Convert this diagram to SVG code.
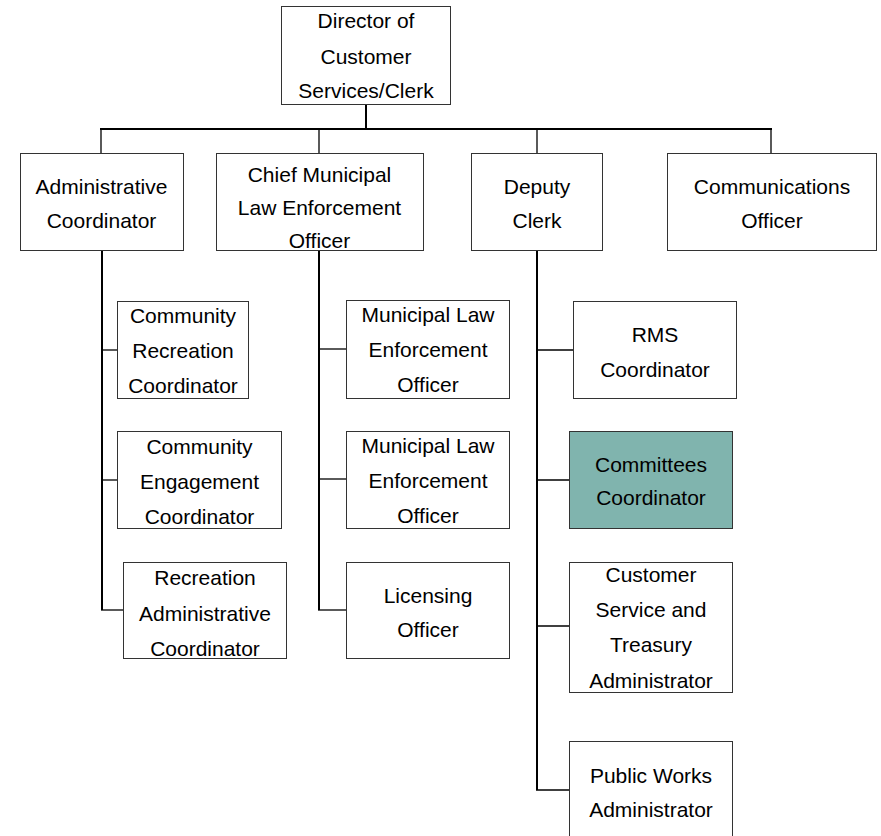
<svg xmlns="http://www.w3.org/2000/svg" width="881" height="836" viewBox="0 0 881 836">
  <style>
    .box { fill: #ffffff; stroke: #333333; stroke-width: 1; }
    .hl { fill: #80b4ae; }
    .trunk { stroke: #000000; stroke-width: 2; fill: none; }
    .branch { stroke: #000000; stroke-width: 1.3; fill: none; }
    text { font-family: "Liberation Sans", Arial, sans-serif; font-size: 21px; fill: #000000; text-anchor: middle; }
  </style>
  <rect width="881" height="836" fill="#ffffff"/>

  <!-- connectors -->
  <g id="connectors">
    <line class="trunk" x1="366" y1="104" x2="366" y2="129"/>
    <line class="trunk" x1="100" y1="129" x2="772" y2="129"/>
    <line class="branch" x1="101" y1="129" x2="101" y2="153"/>
    <line class="branch" x1="319" y1="129" x2="319" y2="153"/>
    <line class="branch" x1="537" y1="129" x2="537" y2="153"/>
    <line class="branch" x1="771" y1="129" x2="771" y2="153"/>

    <!-- Administrative Coordinator reports -->
    <line class="trunk" x1="102" y1="250" x2="102" y2="610"/>
    <line class="branch" x1="101" y1="350" x2="117" y2="350"/>
    <line class="branch" x1="101" y1="480" x2="117" y2="480"/>
    <line class="branch" x1="101" y1="610" x2="123" y2="610"/>

    <!-- Chief Municipal Law Enforcement Officer reports -->
    <line class="trunk" x1="319" y1="250" x2="319" y2="610"/>
    <line class="branch" x1="318" y1="349" x2="346" y2="349"/>
    <line class="branch" x1="318" y1="479" x2="346" y2="479"/>
    <line class="branch" x1="318" y1="610" x2="346" y2="610"/>

    <!-- Deputy Clerk reports -->
    <line class="trunk" x1="537" y1="250" x2="537" y2="790"/>
    <line class="branch" x1="536" y1="350" x2="573" y2="350"/>
    <line class="branch" x1="536" y1="480" x2="569" y2="480"/>
    <line class="branch" x1="536" y1="626" x2="569" y2="626"/>
    <line class="branch" x1="536" y1="790" x2="569" y2="790"/>
  </g>

  <!-- top level -->
  <g id="director">
    <rect class="box" x="281.5" y="6.5" width="169" height="98"/>
    <text x="366" y="28">Director of</text>
    <text x="366" y="64">Customer</text>
    <text x="366" y="98">Services/Clerk</text>
  </g>

  <!-- second level -->
  <g id="admin-coordinator">
    <rect class="box" x="20.5" y="153.5" width="163" height="97"/>
    <text x="101.5" y="194">Administrative</text>
    <text x="101.5" y="228">Coordinator</text>
  </g>
  <g id="chief-mleo">
    <rect class="box" x="216.5" y="153.5" width="207" height="97"/>
    <text x="319.5" y="182">Chief Municipal</text>
    <text x="319.5" y="215">Law Enforcement</text>
    <text x="319.5" y="248">Officer</text>
  </g>
  <g id="deputy-clerk">
    <rect class="box" x="471.5" y="153.5" width="131" height="97"/>
    <text x="537" y="194">Deputy</text>
    <text x="537" y="228">Clerk</text>
  </g>
  <g id="communications-officer">
    <rect class="box" x="667.5" y="153.5" width="209" height="97"/>
    <text x="772" y="194">Communications</text>
    <text x="772" y="228">Officer</text>
  </g>

  <!-- Administrative Coordinator column -->
  <g id="community-recreation-coordinator">
    <rect class="box" x="117.5" y="301.5" width="131" height="97"/>
    <text x="183" y="323">Community</text>
    <text x="183" y="358">Recreation</text>
    <text x="183" y="393">Coordinator</text>
  </g>
  <g id="community-engagement-coordinator">
    <rect class="box" x="117.5" y="431.5" width="164" height="97"/>
    <text x="199.5" y="454">Community</text>
    <text x="199.5" y="489">Engagement</text>
    <text x="199.5" y="524">Coordinator</text>
  </g>
  <g id="recreation-admin-coordinator">
    <rect class="box" x="123.5" y="562.5" width="163" height="96"/>
    <text x="205" y="585">Recreation</text>
    <text x="205" y="621">Administrative</text>
    <text x="205" y="656">Coordinator</text>
  </g>

  <!-- Chief Municipal Law Enforcement Officer column -->
  <g id="mleo-1">
    <rect class="box" x="346.5" y="300.5" width="163" height="98"/>
    <text x="428" y="322">Municipal Law</text>
    <text x="428" y="357">Enforcement</text>
    <text x="428" y="392">Officer</text>
  </g>
  <g id="mleo-2">
    <rect class="box" x="346.5" y="431.5" width="163" height="97"/>
    <text x="428" y="453">Municipal Law</text>
    <text x="428" y="488">Enforcement</text>
    <text x="428" y="523">Officer</text>
  </g>
  <g id="licensing-officer">
    <rect class="box" x="346.5" y="562.5" width="163" height="96"/>
    <text x="428" y="603">Licensing</text>
    <text x="428" y="637">Officer</text>
  </g>

  <!-- Deputy Clerk column -->
  <g id="rms-coordinator">
    <rect class="box" x="573.5" y="301.5" width="163" height="97"/>
    <text x="655" y="342">RMS</text>
    <text x="655" y="377">Coordinator</text>
  </g>
  <g id="committees-coordinator">
    <rect class="box hl" x="569.5" y="431.5" width="163" height="97"/>
    <text x="651" y="472">Committees</text>
    <text x="651" y="505">Coordinator</text>
  </g>
  <g id="customer-service-treasury-admin">
    <rect class="box" x="569.5" y="562.5" width="163" height="130"/>
    <text x="651" y="582">Customer</text>
    <text x="651" y="617">Service and</text>
    <text x="651" y="652">Treasury</text>
    <text x="651" y="688">Administrator</text>
  </g>
  <g id="public-works-admin">
    <rect class="box" x="569.5" y="741.5" width="163" height="110"/>
    <text x="651" y="783">Public Works</text>
    <text x="651" y="817">Administrator</text>
  </g>
</svg>
